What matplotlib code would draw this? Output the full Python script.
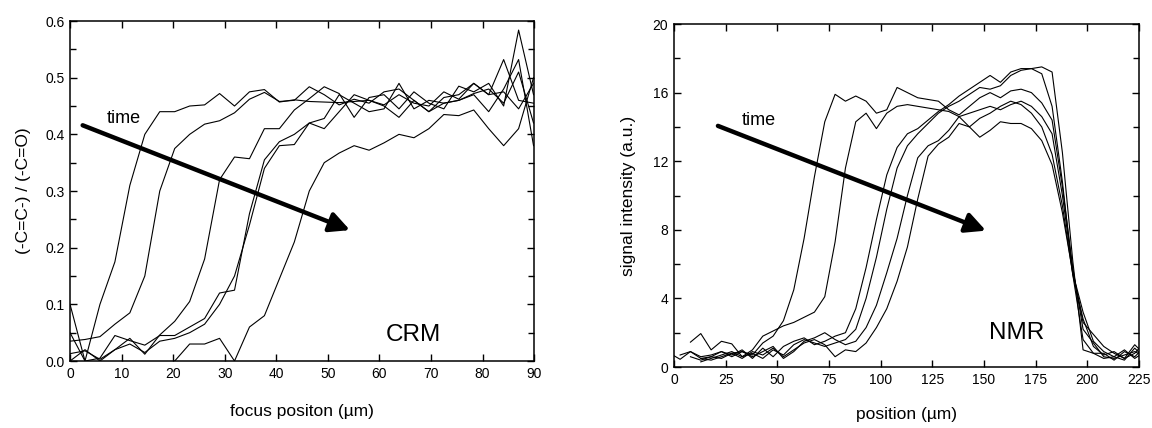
import numpy as np
import matplotlib.pyplot as plt
from matplotlib.ticker import MultipleLocator, FormatStrFormatter

plt.rcParams['font.family'] = ['Liberation Sans', 'DejaVu Sans']

# =========================
# CRM profiles (left panel)
# =========================
crm_x = [0.0, 2.9, 5.8, 8.7, 11.6, 14.5, 17.4, 20.3, 23.2, 26.1,
         29.0, 31.9, 34.8, 37.7, 40.6, 43.5, 46.4, 49.3, 52.2, 55.1,
         58.0, 60.9, 63.8, 66.7, 69.6, 72.5, 75.4, 78.3, 81.2, 84.1,
         87.0, 89.9]

crm_a = [0.10, 0.00, 0.10, 0.175, 0.31, 0.40, 0.44, 0.44, 0.45, 0.452,
         0.472, 0.45, 0.475, 0.479, 0.457, 0.461, 0.458, 0.457, 0.456, 0.458,
         0.46, 0.452, 0.47, 0.455, 0.45, 0.475, 0.462, 0.49, 0.47, 0.475,
         0.445, 0.49]
crm_b = [0.035, 0.038, 0.043, 0.065, 0.085, 0.15, 0.30, 0.375, 0.40, 0.418,
         0.424, 0.438, 0.462, 0.474, 0.458, 0.46, 0.484, 0.47, 0.452, 0.462,
         0.455, 0.475, 0.48, 0.46, 0.44, 0.455, 0.46, 0.472, 0.48, 0.455,
         0.51, 0.42]
crm_c = [0.013, 0.018, 0.003, 0.02, 0.04, 0.012, 0.046, 0.07, 0.105, 0.18,
         0.32, 0.36, 0.357, 0.41, 0.41, 0.443, 0.463, 0.484, 0.472, 0.43,
         0.465, 0.47, 0.445, 0.475, 0.455, 0.445, 0.485, 0.475, 0.49, 0.45,
         0.584, 0.47]
crm_d = [0.05, 0.0, 0.005, 0.045, 0.036, 0.028, 0.045, 0.045, 0.06, 0.075,
         0.12, 0.125, 0.26, 0.355, 0.387, 0.40, 0.42, 0.41, 0.44, 0.47,
         0.46, 0.45, 0.43, 0.46, 0.44, 0.465, 0.47, 0.49, 0.47, 0.532,
         0.46, 0.455]
crm_e = [0.0, 0.02, 0.0, 0.02, 0.03, 0.015, 0.035, 0.04, 0.05, 0.065,
         0.10, 0.15, 0.24, 0.34, 0.38, 0.382, 0.42, 0.428, 0.47, 0.455,
         0.44, 0.445, 0.49, 0.445, 0.46, 0.455, 0.46, 0.47, 0.44, 0.48,
         0.532, 0.38]
crm_f = [-0.02, -0.02, -0.02, -0.01, -0.01, -0.01, -0.01, 0.0, 0.03, 0.03,
         0.04, 0.0, 0.06, 0.08, 0.145, 0.21, 0.30, 0.35, 0.367, 0.38,
         0.372, 0.385, 0.40, 0.394, 0.41, 0.435, 0.433, 0.443, 0.41, 0.38,
         0.41, 0.50]

# =========================
# NMR profiles (right panel)
# =========================
nan = np.nan
nmr_x = [-2, 3, 8, 13, 18, 23, 28, 33, 38, 43,
         48, 53, 58, 63, 68, 73, 78, 83, 88, 93,
         98, 103, 108, 113, 118, 123, 128, 133, 138, 143,
         148, 153, 158, 163, 168, 173, 178, 183, 188, 193,
         198, 203, 208, 213, 218, 223, 228]

nmr_1 = [0.8, 0.45, 0.9, 0.6, 0.7, 0.9, 0.6, 0.9, 0.7, 1.4,
         1.8, 2.7, 4.5, 7.5, 11.1, 14.3, 15.9, 15.5, 15.8, 15.5,
         14.8, 15.0, 16.3, 16.0, 15.7, 15.6, 15.5, 15.0, 14.7, 15.2,
         15.7, 16.0, 15.7, 16.1, 16.2, 16.0, 15.4, 14.4, 10.5, 5.8,
         2.2, 1.4, 0.6, 0.5, 0.7, 0.9, 0.6]
nmr_2 = [nan, nan, 1.45, 1.95, 1.0, 1.5, 1.35, 0.6, 1.0, 1.8,
         2.1, 2.4, 2.6, 2.9, 3.2, 4.1, 7.3, 11.6, 14.3, 14.8,
         13.9, 14.8, 15.2, 15.3, 15.2, 15.1, 15.0, 14.9, 14.6, 14.8,
         15.0, 15.2, 15.0, 15.3, 15.5, 15.2, 14.6, 13.6, 10.0, 5.6,
         2.6, 1.9, 1.2, 0.8, 0.5, 1.3, 0.7]
nmr_3 = [nan, 0.7, 0.9, 0.5, 0.6, 0.9, 0.7, 1.0, 0.5, 1.1,
         0.6, 1.2, 1.5, 1.7, 1.3, 1.5, 1.8, 2.0, 3.4, 5.8,
         8.6, 11.2, 12.8, 13.6, 13.9, 14.4, 14.9, 15.3, 15.8, 16.2,
         16.6, 17.0, 16.6, 17.2, 17.4, 17.4, 17.5, 17.2, 12.5, 6.2,
         1.0, 0.8, 0.5, 0.6, 0.4, 1.1, 0.5]
nmr_4 = [nan, nan, nan, 0.3, 0.5, 0.7, 0.9, 0.6, 0.8, 0.5,
         1.0, 0.7, 1.3, 1.6, 1.4, 1.2, 1.4, 1.6, 2.2, 4.0,
         6.4, 9.2, 11.6, 12.9, 13.6, 14.2, 14.8, 15.2, 15.5, 15.9,
         16.3, 16.2, 16.4, 17.0, 17.3, 17.4, 17.1, 15.2, 10.8, 5.4,
         1.6, 0.8, 0.8, 0.4, 0.9, 0.6, 1.2]
nmr_5 = [nan, nan, 0.6, 0.4, 0.6, 0.5, 0.8, 0.9, 0.6, 0.9,
         1.2, 0.5, 0.9, 1.5, 1.7, 2.0, 1.6, 1.3, 1.5, 2.3,
         3.6, 5.5, 7.5, 10.0, 12.2, 12.9, 13.2, 13.8, 14.6, 14.0,
         14.5, 14.8, 15.2, 15.5, 15.3, 14.8, 14.0, 12.4, 9.4, 5.4,
         2.8, 1.2, 0.7, 0.9, 0.5, 0.8, 1.5]
nmr_6 = [nan, nan, nan, 0.5, 0.4, 0.6, 0.8, 0.5, 0.9, 0.7,
         1.1, 0.6, 1.0, 1.4, 1.6, 1.3, 0.6, 1.0, 0.9, 1.4,
         2.3, 3.4, 5.0, 7.0, 9.8, 12.3, 13.0, 13.4, 14.2, 14.0,
         13.4, 13.8, 14.3, 14.2, 14.2, 13.9, 13.2, 11.8, 9.0, 5.5,
         3.2, 1.5, 0.9, 0.6, 1.0, 0.5, 0.9]


def style_axes(ax):
    ax.tick_params(which="both", direction="in", top=True, right=True,
                   width=1.0, labelsize=10, pad=4)
    ax.tick_params(which="major", length=5)
    ax.tick_params(which="minor", length=4.5)
    for s in ax.spines.values():
        s.set_linewidth(1.1)


fig = plt.figure(figsize=(11.52, 4.28), dpi=100)

# ---- left: CRM ----
ax1 = fig.add_axes([0.0608, 0.1565, 0.4028, 0.7944])
for ys in [crm_a, crm_b, crm_c, crm_d, crm_e, crm_f]:
    ax1.plot(crm_x, ys, color="black", lw=0.8)
ax1.set_xlim(0, 90)
ax1.set_ylim(0, 0.6)
ax1.xaxis.set_major_locator(MultipleLocator(10))
ax1.yaxis.set_major_locator(MultipleLocator(0.1))
ax1.yaxis.set_minor_locator(MultipleLocator(0.05))
ax1.yaxis.set_major_formatter(FormatStrFormatter("%.1f"))
style_axes(ax1)
ax1.set_xlabel("focus positon (\u00b5m)", fontsize=12.5, labelpad=17)
ax1.set_ylabel("(-C=C-) / (-C=O)", fontsize=12.5, labelpad=10)
ax1.annotate("", xy=(54.3, 0.231), xytext=(2.45, 0.416),
             arrowprops=dict(arrowstyle="-|>,head_length=0.6,head_width=0.3",
                             lw=3.2, color="black", mutation_scale=20,
                             shrinkA=0, shrinkB=0))
ax1.text(7.2, 0.428, "time", fontsize=13, ha="left", va="center")
ax1.text(66.5, 0.046, "CRM", fontsize=17.5, ha="center", va="center")

# ---- right: NMR ----
ax2 = fig.add_axes([0.585, 0.1425, 0.4036, 0.8014])
for ys in [nmr_1, nmr_2, nmr_3, nmr_4, nmr_5, nmr_6]:
    ax2.plot(nmr_x, ys, color="black", lw=0.8)
ax2.set_xlim(0, 225)
ax2.set_ylim(0, 20)
ax2.xaxis.set_major_locator(MultipleLocator(25))
ax2.yaxis.set_major_locator(MultipleLocator(4))
ax2.yaxis.set_minor_locator(MultipleLocator(2))
style_axes(ax2)
ax2.set_xlabel("position (\u00b5m)", fontsize=12.5, labelpad=15)
ax2.set_ylabel("signal intensity (a.u.)", fontsize=12.5, labelpad=12)
ax2.annotate("", xy=(151, 7.95), xytext=(21.3, 14.06),
             arrowprops=dict(arrowstyle="-|>,head_length=0.6,head_width=0.3",
                             lw=3.2, color="black", mutation_scale=20,
                             shrinkA=0, shrinkB=0))
ax2.text(32.6, 14.4, "time", fontsize=13, ha="left", va="center")
ax2.text(166, 2.0, "NMR", fontsize=17.5, ha="center", va="center")

fig.savefig("out.png", dpi=100)
